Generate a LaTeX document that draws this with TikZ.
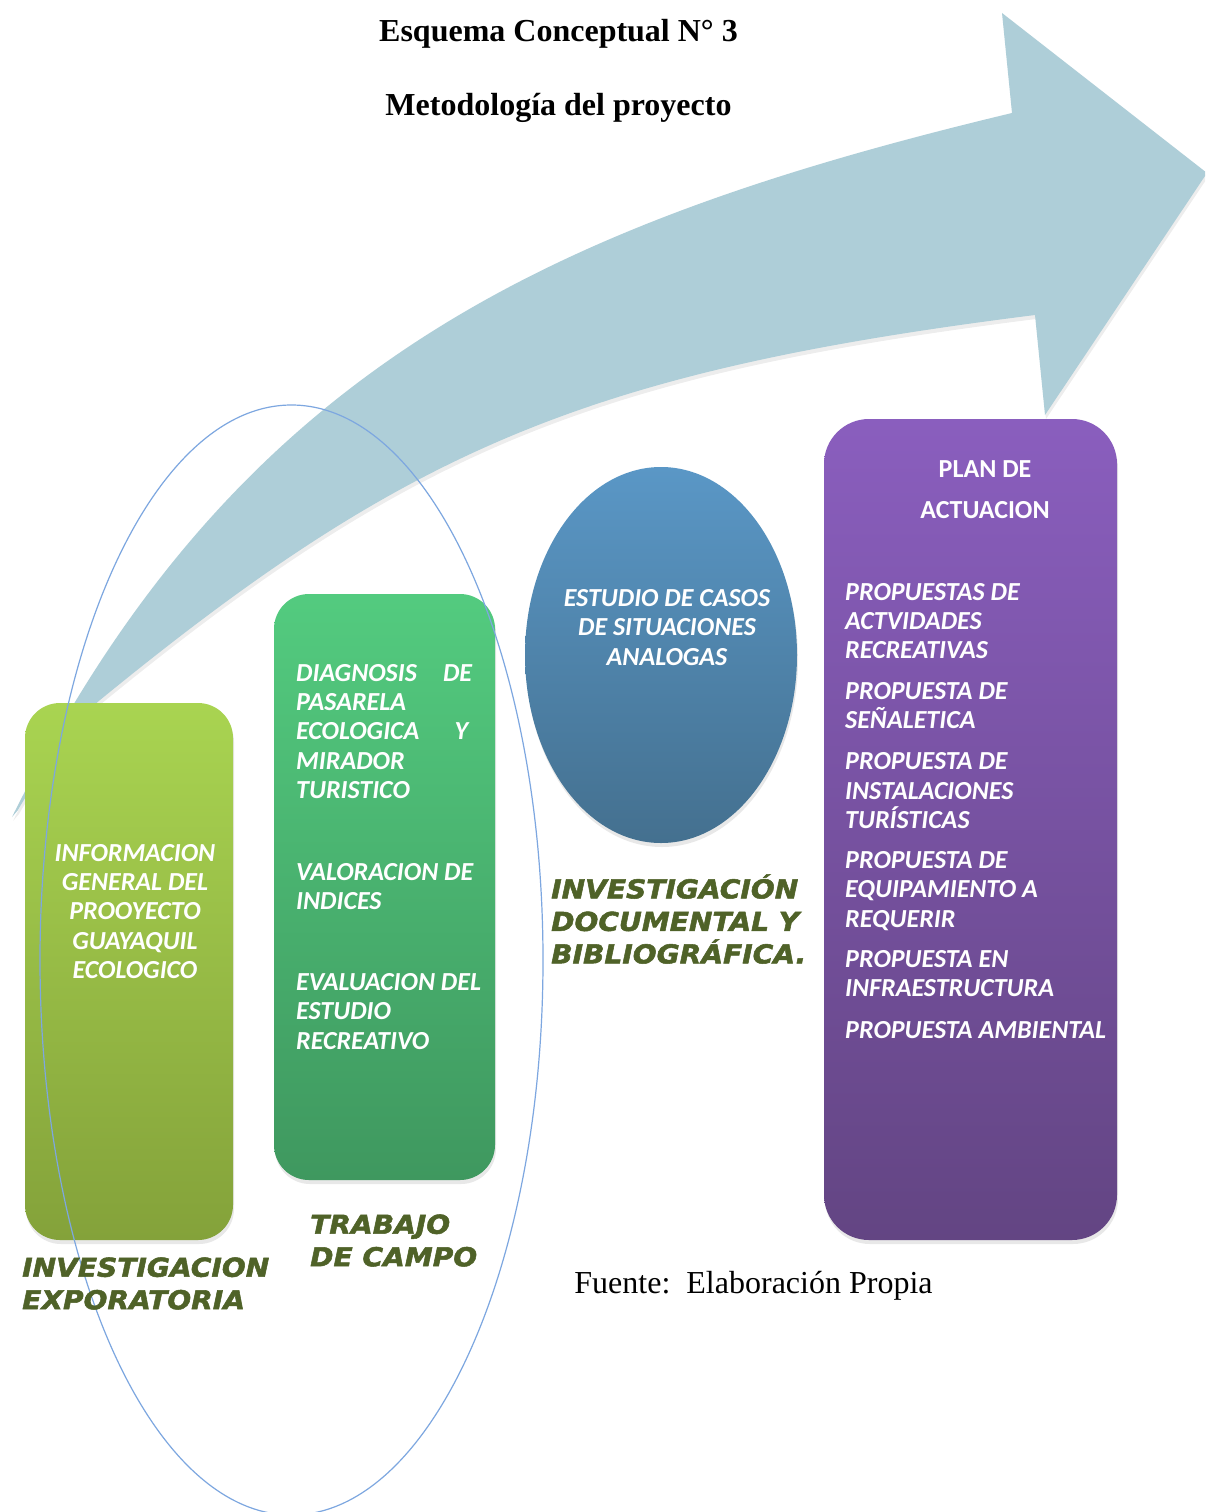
\documentclass[tikz,border=0pt]{standalone}
\usepackage{fontspec}
\setmainfont{Liberation Serif}
\newfontfamily\boxfont{Carlito}
\newfontfamily\labfont[FakeStretch=1.08, BoldItalicFeatures={FakeBold=2}]{DejaVu Sans}
\usetikzlibrary{shapes.geometric,shadows}

\definecolor{arrowblue}{HTML}{AECED8}
\definecolor{ringblue}{HTML}{7DA7E0}
\definecolor{limetop}{HTML}{A9D451}
\definecolor{limebot}{HTML}{84A23A}
\definecolor{greentop}{HTML}{53CB7F}
\definecolor{greenbot}{HTML}{3F985F}
\definecolor{bluetop}{HTML}{5A97C6}
\definecolor{bluebot}{HTML}{44708F}
\definecolor{purtop}{HTML}{8A5EBE}
\definecolor{purbot}{HTML}{634583}
\definecolor{olivetext}{HTML}{4F6228}

% outline of the large curved arrow
\newcommand\flowarrowpath{%
  (12,817) .. controls (234.5,369) and (545.4,224.8) .. (1012,113)
  -- (1002,13) -- (1207,173) -- (1045,415) -- (1035,315)
  .. controls (588.6,371.25) and (408,448) .. (100,700)
  .. controls (75,720) and (35,780) .. (18,810)
  -- cycle}

\tikzset{
  panel/.style={draw=none, inner sep=0pt,
    drop shadow={shadow xshift=1pt, shadow yshift=-4pt, opacity=0.18}},
  boxtext/.style={text=white, inner sep=0pt,
    font=\boxfont\bfseries\itshape\fontsize{26}{29.3}\selectfont},
  headtext/.style={text=white, inner sep=0pt, align=center,
    font=\boxfont\bfseries\fontsize{26}{29.3}\selectfont},
  stage/.style={text=olivetext, inner sep=0pt, align=left, anchor=west,
    font=\labfont\bfseries\itshape\fontsize{26}{32.5}\selectfont},
  titletext/.style={inner sep=0pt, font=\bfseries\fontsize{32}{38}\selectfont},
}

\begin{document}
\begin{tikzpicture}[x=1pt,y=-1pt]
\useasboundingbox (0,0) rectangle (1205,1512);
\fill[white] (0,0) rectangle (1205,1512);

% curved arrow with a faint shadow
\begin{scope}
  \clip (0,0) rectangle (1205,1512);
  \begin{scope}[shift={(1,4)}]
    \fill[black, opacity=0.07] \flowarrowpath;
  \end{scope}
  \fill[arrowblue] \flowarrowpath;
\end{scope}

% headings
\node[titletext] (titulo) at (558.5,34) {Esquema Conceptual N° 3};
\node[titletext] (subtitulo) at (558.5,108) {Metodología del proyecto};

% stage panels
\node[panel, rounded corners=35pt, top color=limetop, bottom color=limebot,
      minimum width=208pt, minimum height=537pt] (explora) at (129,971.5) {};
\node[panel, rounded corners=35pt, top color=greentop, bottom color=greenbot,
      minimum width=221pt, minimum height=586pt] (campo) at (384.5,887) {};
\node[panel, ellipse, top color=bluetop, bottom color=bluebot,
      minimum width=272pt, minimum height=376pt] (casos) at (661,655) {};
\node[panel, rounded corners=45pt, top color=purtop, bottom color=purbot,
      minimum width=293pt, minimum height=821pt] (plan) at (970.5,829.5) {};

% panel contents
\node[boxtext, align=center] (explora-txt) at (135,911.5)
  {INFORMACION\\GENERAL DEL\\PROOYECTO\\GUAYAQUIL\\ECOLOGICO};

\node[boxtext, align=left, anchor=west] (campo-a) at (296,731.5)
  {\hbox to 176pt{DIAGNOSIS\hfill DE}\\PASARELA\\\hbox to 172pt{ECOLOGICA\hfill Y}\\MIRADOR\\TURISTICO};
\node[boxtext, align=left, anchor=west] (campo-b) at (296,886.5)
  {VALORACION DE\\INDICES};
\node[boxtext, align=left, anchor=west] (campo-c) at (296,1011.5)
  {EVALUACION DEL\\ESTUDIO\\RECREATIVO};

\node[boxtext, align=center] (casos-txt) at (667,627.5)
  {ESTUDIO DE CASOS\\DE SITUACIONES\\ANALOGAS};

\node[headtext] (plan-head) at (985,489.5) {PLAN DE\\[11.7pt]ACTUACION};
\node[boxtext, align=left, anchor=west] (plan-txt) at (845,811)
  {PROPUESTAS DE\\ACTVIDADES\\RECREATIVAS\\[11.5pt]
   PROPUESTA DE\\SEÑALETICA\\[11.5pt]
   PROPUESTA DE\\INSTALACIONES\\TURÍSTICAS\\[11pt]
   PROPUESTA DE\\EQUIPAMIENTO A\\REQUERIR\\[11pt]
   PROPUESTA EN\\INFRAESTRUCTURA\\[12.5pt]
   PROPUESTA AMBIENTAL};

% ring grouping the field stages
\node[ellipse, draw=ringblue, line width=1.2pt, inner sep=0pt,
      minimum width=503pt, minimum height=1110pt] (grupo) at (291.5,960) {};

% stage captions
\node[stage] (documental) at (551,919)
  {INVESTIGACIÓN\\DOCUMENTAL Y\\BIBLIOGRÁFICA.};
\node[stage] (trabajo) at (310,1240.5) {TRABAJO\\DE CAMPO};
\node[stage] (exploratoria) at (22,1283.5) {INVESTIGACION\\EXPORATORIA};

\node[inner sep=0pt, font=\fontsize{32}{38}\selectfont] (fuente) at (753.5,1286)
  {Fuente:\ \ Elaboración Propia};
\end{tikzpicture}
\end{document}
